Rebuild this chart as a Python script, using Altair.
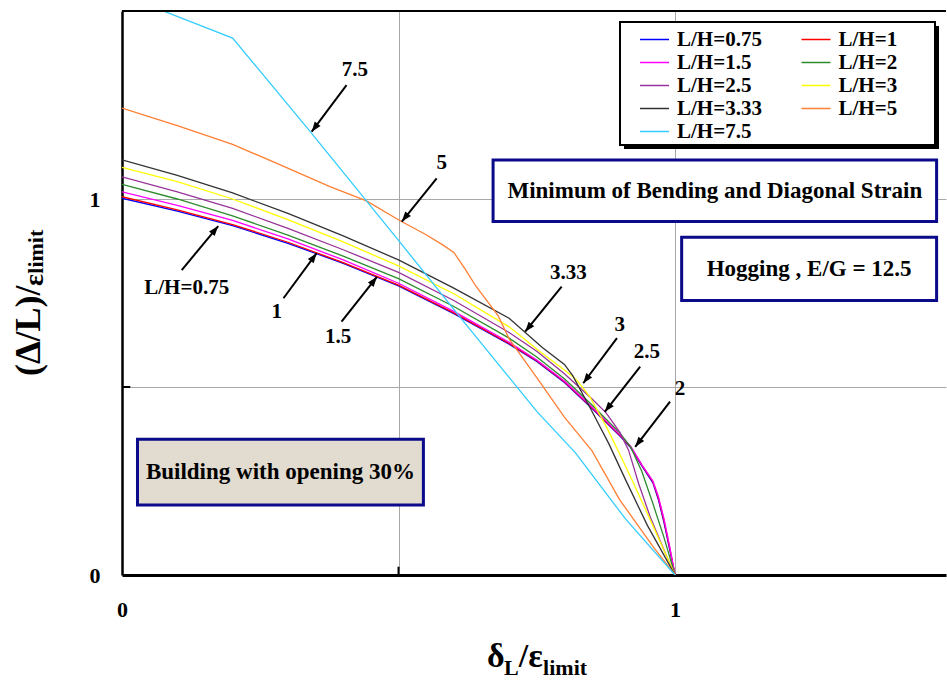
import math
import altair as alt
import pandas as pd

FONT = "Liberation Serif"

# ---------------- data ----------------
SERIES = ["L/H=0.75", "L/H=1", "L/H=1.5", "L/H=2", "L/H=2.5",
          "L/H=3", "L/H=3.33", "L/H=5", "L/H=7.5"]
COLORS = ["#0000FF", "#FF0000", "#FF00FF", "#2E8B2E", "#993399",
          "#FFFF00", "#333333", "#FF7F33", "#33CCFF"]

x_low = [0, 0.1, 0.2, 0.3, 0.4, 0.5, 0.6, 0.7, 0.75, 0.8, 0.85, 0.9, 0.92, 0.94, 0.96, 0.97, 0.98, 0.99, 1.0]
y_075 = [1.002, 0.968, 0.929, 0.882, 0.829, 0.769, 0.695, 0.614, 0.568, 0.512, 0.443, 0.370, 0.338, 0.290, 0.245, 0.200, 0.140, 0.070, 0]
y_1 = [1.006, 0.971, 0.932, 0.885, 0.831, 0.771, 0.697, 0.616, 0.570, 0.514, 0.445, 0.372, 0.340, 0.292, 0.248, 0.205, 0.145, 0.075, 0]
y_15 = [1.019, 0.983, 0.943, 0.894, 0.838, 0.776, 0.701, 0.619, 0.572, 0.516, 0.447, 0.374, 0.342, 0.293, 0.250, 0.208, 0.150, 0.078, 0]

x_2 = [0, 0.1, 0.2, 0.3, 0.4, 0.5, 0.6, 0.7, 0.75, 0.8, 0.85, 0.9, 0.92, 0.94, 0.96, 0.98, 1.0]
y_2 = [1.039, 1.000, 0.955, 0.904, 0.848, 0.788, 0.714, 0.630, 0.580, 0.522, 0.452, 0.378, 0.340, 0.275, 0.190, 0.100, 0]

x_25 = [0, 0.1, 0.2, 0.3, 0.4, 0.5, 0.6, 0.7, 0.75, 0.8, 0.85, 0.875, 0.9, 0.916, 0.934, 0.955, 0.985, 1.0]
y_25 = [1.059, 1.019, 0.975, 0.922, 0.865, 0.805, 0.730, 0.645, 0.595, 0.535, 0.468, 0.432, 0.380, 0.332, 0.244, 0.155, 0.049, 0]

x_3 = [0, 0.1, 0.2, 0.3, 0.4, 0.5, 0.6, 0.7, 0.756, 0.8, 0.822, 0.846, 0.876, 0.9, 0.925, 0.961, 1.0]
y_3 = [1.084, 1.046, 1.000, 0.945, 0.886, 0.822, 0.748, 0.660, 0.594, 0.545, 0.519, 0.474, 0.394, 0.322, 0.244, 0.128, 0]

x_333 = [0, 0.1, 0.2, 0.3, 0.4, 0.5, 0.6, 0.7, 0.76, 0.8, 0.815, 0.85, 0.88, 0.91, 0.95, 1.0]
y_333 = [1.104, 1.063, 1.016, 0.962, 0.902, 0.838, 0.763, 0.683, 0.605, 0.560, 0.530, 0.435, 0.350, 0.255, 0.132, 0]

x_5 = [0, 0.1, 0.2, 0.28, 0.376, 0.442, 0.503, 0.55, 0.58, 0.6, 0.62, 0.64, 0.68, 0.70, 0.75, 0.8, 0.85, 0.9, 0.96, 1.0]
y_5 = [1.242, 1.195, 1.145, 1.095, 1.033, 0.995, 0.942, 0.905, 0.878, 0.858, 0.815, 0.768, 0.690, 0.628, 0.525, 0.420, 0.330, 0.200, 0.076, 0]

x_75 = [0, 0.2, 0.34, 0.5, 0.62, 0.75, 0.82, 0.91, 1.0]
y_75 = [1.543, 1.428, 1.180, 0.890, 0.670, 0.435, 0.325, 0.150, 0]

X_LISTS = [x_low, x_low, x_low, x_2, x_25, x_3, x_333, x_5, x_75]
Y_LISTS = [y_075, y_1, y_15, y_2, y_25, y_3, y_333, y_5, y_75]

# curve labels (text, x, y) and arrows (tail x, tail y, tip x, tip y)
LABEL_TEXT = ["7.5", "5", "L/H=0.75", "1", "1.5", "3.33", "3", "2.5", "2"]
LABEL_X = [0.421, 0.578, 0.117, 0.280, 0.391, 0.807, 0.900, 0.949, 1.009]
LABEL_Y = [1.343, 1.095, 0.762, 0.700, 0.634, 0.802, 0.665, 0.594, 0.496]
ARROW_X = [0.406, 0.569, 0.108, 0.292, 0.397, 0.795, 0.895, 0.937, 0.991]
ARROW_Y = [1.303, 1.055, 0.811, 0.736, 0.674, 0.767, 0.630, 0.554, 0.461]
TIP_X = [0.343, 0.506, 0.174, 0.352, 0.461, 0.729, 0.834, 0.873, 0.928]
TIP_Y = [1.179, 0.940, 0.928, 0.856, 0.793, 0.647, 0.510, 0.434, 0.341]

# annotation boxes
BOX_TEXT = ["Minimum of Bending and Diagonal Strain", "Hogging , E/G = 12.5", "Building with opening 30%"]
BOX_X1 = [0.671, 1.012, 0.028]
BOX_X2 = [1.473, 1.473, 0.545]
BOX_Y1 = [0.940, 0.730, 0.186]
BOX_Y2 = [1.104, 0.898, 0.361]
BOX_FILL = ["#FFFFFF", "#FFFFFF", "#E2DBD0"]

# ---------------- layout ----------------
W, H = 824, 564
X_MAX, Y_MAX = 1.49, 1.5
PXX, PXY = W / X_MAX, H / Y_MAX

xsc = alt.Scale(domain=[0, X_MAX], nice=False, zero=False)
ysc = alt.Scale(domain=[0, Y_MAX], nice=False, zero=False)

rows = []
for name, xs_, ys_ in zip(SERIES, X_LISTS, Y_LISTS):
    for i, (a, b) in enumerate(zip(xs_, ys_)):
        rows.append(dict(series=name, x=a, y=b, i=i))
curves = pd.DataFrame(rows)

label_expr = "datum.value == 0.5 ? '' : format(datum.value, 'd')"
x_axis = alt.Axis(values=[0, 0.5, 1], labelExpr=label_expr, ticks=False, grid=True,
                  gridColor="#a8a8a8", gridWidth=1, domainColor="black", domainWidth=3,
                  labelFont=FONT, labelFontSize=22, labelFontWeight="bold", labelColor="black",
                  labelPadding=24, labelFlush=False, labelOverlap=False, title=None)
y_axis = alt.Axis(values=[0, 0.5, 1], labelExpr=label_expr, ticks=False, grid=True,
                  gridColor="#a8a8a8", gridWidth=1, domainColor="black", domainWidth=2.5,
                  labelFont=FONT, labelFontSize=22, labelFontWeight="bold", labelColor="black",
                  labelPadding=22, labelOverlap=False, title=None)

legend = alt.Legend(title=None, orient="none", legendX=521.5, legendY=17.5, columns=2,
                    direction="horizontal",
                    symbolType="M-1.45,0L1.45,0", symbolSize=400, symbolStrokeWidth=1.5,
                    labelFont=FONT, labelFontSize=21, labelFontWeight="bold", labelColor="black",
                    columnPadding=35.5, rowPadding=2, labelOffset=11.5, padding=0, labelLimit=200)

lines = alt.Chart(curves).mark_line(strokeWidth=1.3, clip=True).encode(
    x=alt.X("x:Q", scale=xsc, axis=x_axis),
    y=alt.Y("y:Q", scale=ysc, axis=y_axis),
    color=alt.Color("series:N", scale=alt.Scale(domain=SERIES, range=COLORS), legend=legend,
                    sort=SERIES),
    order=alt.Order("i:Q"),
)

boxes_df = pd.DataFrame(dict(t=BOX_TEXT, x1=BOX_X1, x2=BOX_X2, y1=BOX_Y1, y2=BOX_Y2, f=BOX_FILL))
boxes_df["xc"] = (boxes_df.x1 + boxes_df.x2) / 2
boxes_df["yc"] = (boxes_df.y1 + boxes_df.y2) / 2
boxes = alt.Chart(boxes_df).mark_rect(stroke="#0A0A8A", strokeWidth=3).encode(
    x=alt.X("x1:Q", scale=xsc), x2="x2:Q", y=alt.Y("y1:Q", scale=ysc), y2="y2:Q",
    fill=alt.Fill("f:N", scale=None))
box_text = alt.Chart(boxes_df).mark_text(font=FONT, fontWeight="bold", fontSize=23,
                                          color="black", align="center", baseline="middle").encode(
    x=alt.X("xc:Q", scale=xsc), y=alt.Y("yc:Q", scale=ysc), text="t:N")

arrows_df = pd.DataFrame(dict(x=ARROW_X, y=ARROW_Y, x2=TIP_X, y2=TIP_Y))
arrows_df["ang"] = [
    math.degrees(math.atan2((tx - ax) * PXX, (ty - ay) * PXY)) % 360
    for ax, ay, tx, ty in zip(ARROW_X, ARROW_Y, TIP_X, TIP_Y)]
shafts = alt.Chart(arrows_df).mark_rule(color="black", strokeWidth=2).encode(
    x=alt.X("x:Q", scale=xsc), y=alt.Y("y:Q", scale=ysc), x2="x2:Q", y2="y2:Q")
HEAD = "M0,0L-0.42,1.15L0.42,1.15Z"
heads = alt.Chart(arrows_df).mark_point(shape=HEAD, filled=True, color="black", size=300,
                                         opacity=1, strokeWidth=0).encode(
    x=alt.X("x2:Q", scale=xsc), y=alt.Y("y2:Q", scale=ysc), angle=alt.Angle("ang:Q", scale=None))

labels_df = pd.DataFrame(dict(t=LABEL_TEXT, x=LABEL_X, y=LABEL_Y))
labels = alt.Chart(labels_df).mark_text(font=FONT, fontWeight="bold", fontSize=21, color="black",
                                         align="center", baseline="middle").encode(
    x=alt.X("x:Q", scale=xsc), y=alt.Y("y:Q", scale=ysc), text="t:N")

# top frame line and inner ticks
frame_df = pd.DataFrame(dict(x=[0, 0.5, 0], x2=[X_MAX, 0.5, 0.015], y=[Y_MAX, 0, 0.5], y2=[Y_MAX, 0.022, 0.5]))
frame = alt.Chart(frame_df).mark_rule(color="black", strokeWidth=2).encode(
    x=alt.X("x:Q", scale=xsc), x2="x2:Q", y=alt.Y("y:Q", scale=ysc), y2="y2:Q")

# legend frame (pixel layout relative to plot)
leg_shadow = alt.Chart(pd.DataFrame({"a": [0]})).mark_rect(fill="black").encode(
    x=alt.value(502), x2=alt.value(817), y=alt.value(15), y2=alt.value(138))
leg_box = alt.Chart(pd.DataFrame({"a": [0]})).mark_rect(fill="white", stroke="black", strokeWidth=2).encode(
    x=alt.value(498), x2=alt.value(813), y=alt.value(11), y2=alt.value(134))

# axis titles with subscripts
EM = {"δ": 0.50, "L": 0.667, "/": 0.278, "ε": 0.44, "limit": 2.0, "(Δ/L)/": 2.5}
title_layers = []
xpos = 487 - 122
for txt, fs, base in [("δ", 34, 667), ("L", 22, 675), ("/", 34, 667), ("ε", 34, 667), ("limit", 22, 675)]:
    title_layers.append(alt.Chart(pd.DataFrame({"a": [0]})).mark_text(
        text=txt, font=FONT, fontWeight="bold", fontSize=fs, color="black",
        align="left", baseline="alphabetic").encode(x=alt.value(xpos), y=alt.value(base - 11)))
    xpos += EM[txt] * fs
ypos = 376 - 11
for txt, fs, base in [("(Δ/L)/", 36, 40), ("ε", 28, 43), ("limit", 22, 43)]:
    title_layers.append(alt.Chart(pd.DataFrame({"a": [0]})).mark_text(
        text=txt, font=FONT, fontWeight="bold", fontSize=fs, color="black",
        align="left", baseline="alphabetic", angle=270).encode(x=alt.value(base - 122), y=alt.value(ypos)))
    ypos -= EM[txt] * fs

chart = alt.layer(lines, boxes, box_text, frame, shafts, heads, labels, leg_shadow, leg_box,
                  *title_layers).properties(
    width=W, height=H,
    padding={"left": 122, "top": 11, "right": 1, "bottom": 107},
    autosize=alt.AutoSizeParams(type="none"),
    background="white",
).configure_view(stroke=None)

chart.save("out.html", embed_options={"renderer": "svg", "actions": False})
